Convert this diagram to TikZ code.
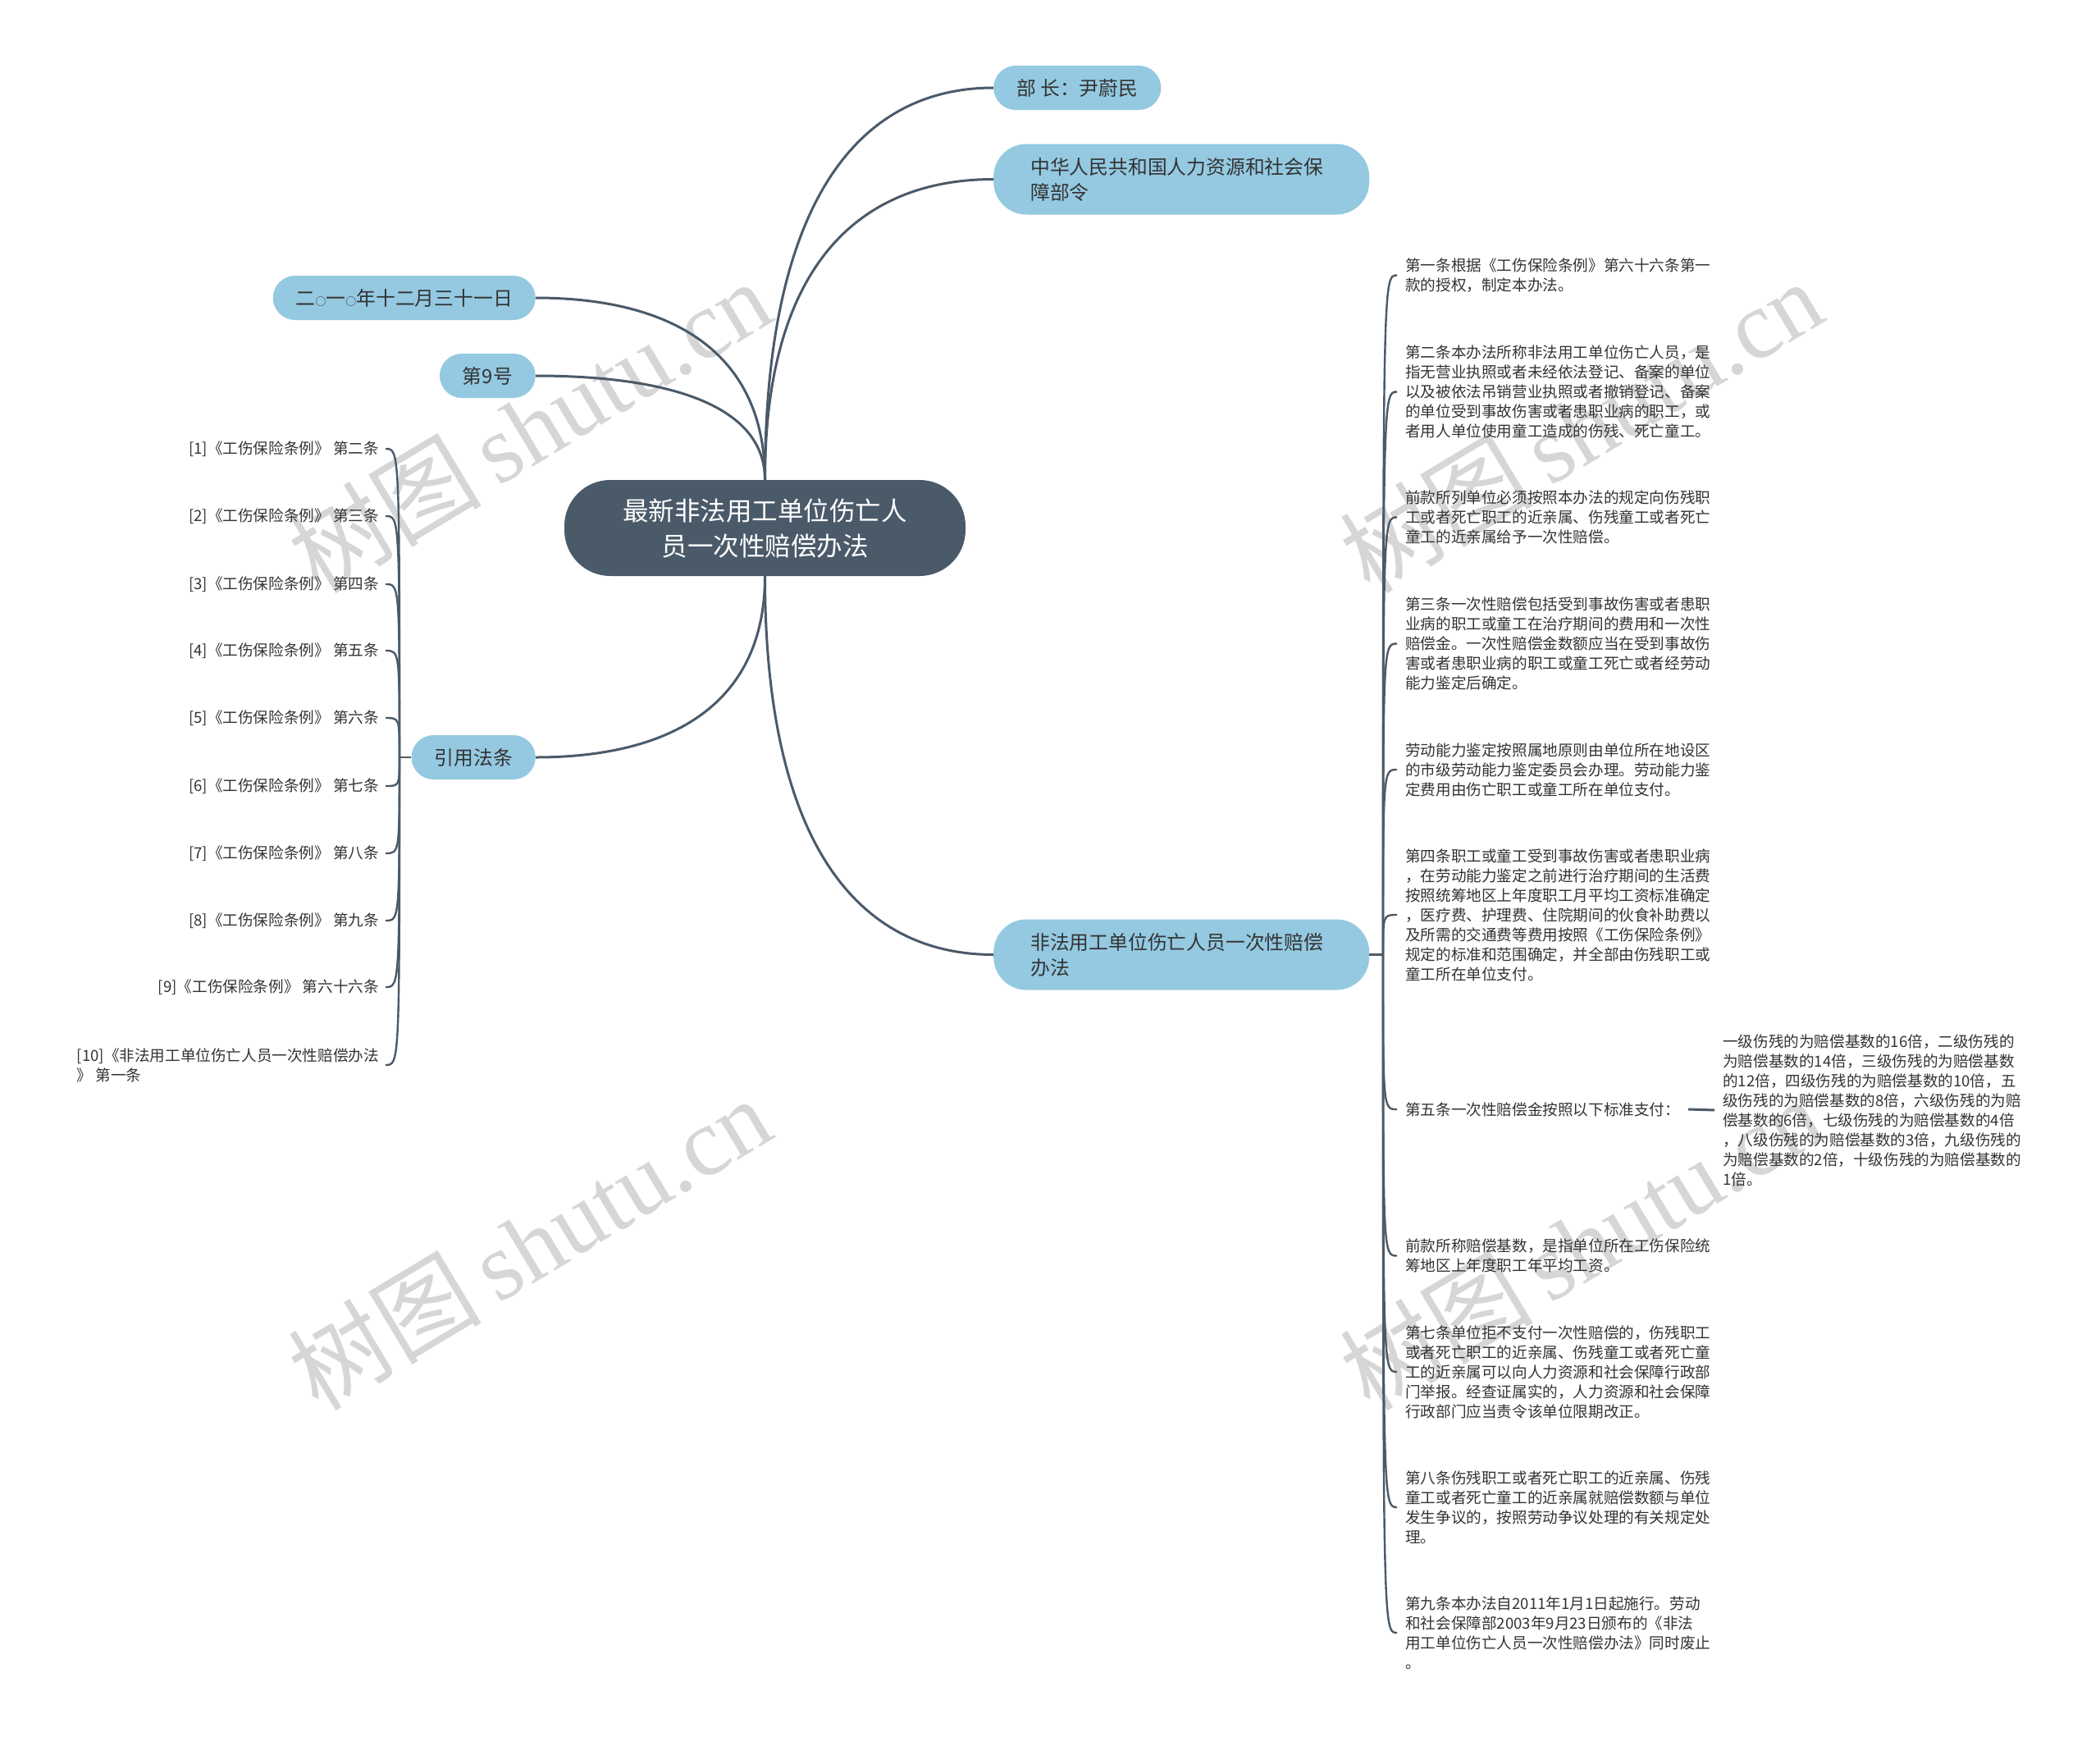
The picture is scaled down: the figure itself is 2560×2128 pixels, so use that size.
\documentclass[tikz,border=0pt]{standalone}
\usepackage{fontspec}
\setmainfont{Noto Sans CJK SC}
\newfontfamily\wmserif{Liberation Serif}
\definecolor{dark}{RGB}{74,90,105}
\definecolor{lblue}{RGB}{148,201,225}
\definecolor{txt}{RGB}{51,51,51}
\definecolor{wm}{RGB}{214,214,214}
\newcommand\smcirc{{\fontsize{13pt}{13pt}\selectfont ○}}
\tikzset{
  bluebox/.style={fill=lblue, text=txt, rounded corners=27pt, minimum height=54pt,
    inner xsep=28pt, inner ysep=0pt, font=\fontsize{23.8pt}{31pt}\selectfont},
  bluebox2/.style={bluebox, rounded corners=40pt, minimum height=86pt, inner xsep=45pt,
    text width=368pt, align=left},
  rootbox/.style={fill=dark, text=white, rounded corners=56pt, minimum width=489pt,
    minimum height=117pt, align=center, inner sep=0pt, font=\fontsize{31.5pt}{43pt}\selectfont},
  leaftext/.style={text=txt, font=\fontsize{18.6pt}{24pt}\selectfont, inner ysep=0pt, align=left},
  lleaf/.style={leaftext, inner xsep=8pt, anchor=east},
  rleaf/.style={leaftext, inner xsep=10pt, anchor=west},
  mainconn/.style={draw=dark, line width=3pt},
  subconn/.style={draw=dark, line width=2.4pt},
  wmark/.style={text=wm, rotate=31, inner sep=0pt}
}
\begin{document}
\begin{tikzpicture}[x=1pt,y=-1pt]
\fill[white] (0,0) rectangle (2560,2128);
\useasboundingbox (0,0) rectangle (2560,2128);

% watermarks
\foreach \wx/\wy [count=\i] in {645/519, 1927/519, 645/1515, 1927/1515}{
  \node[wmark] (wm\i) at (\wx,\wy) {\fontsize{118pt}{118pt}\selectfont 树图\,{\wmserif shutu.cn}};
}

% root
\node[rootbox] (root) at (932.5,643.5) {最新非法用工单位伤亡人\\员一次性赔偿办法};

% first-level nodes
\node[bluebox, anchor=west] (bz) at (1211,107) {部 长：尹蔚民};
\node[bluebox2, anchor=west] (zh) at (1211,218.5) {中华人民共和国人力资源和社会保\\障部令};
\node[bluebox, anchor=east] (rq) at (653,363) {二\smcirc 一\smcirc 年十二月三十一日};
\node[bluebox, anchor=east] (d9) at (653,458) {第9号};
\node[bluebox, anchor=east] (yy) at (653,923) {引用法条};
\node[bluebox2, anchor=west] (fz) at (1211,1163.5) {非法用工单位伤亡人员一次性赔偿\\办法};

\draw[mainconn] (root.north) .. controls +(0,-335) and +(-167,0) .. (bz.west);
\draw[mainconn] (root.north) .. controls +(0,-257) and +(-167,0) .. (zh.west);
\draw[mainconn] (root.north) .. controls +(0,-155) and +(167,0) .. (rq.east);
\draw[mainconn] (root.north) .. controls +(0,-89) and +(167,0) .. (d9.east);
\draw[mainconn] (root.south) .. controls +(0,155) and +(167,0) .. (yy.east);
\draw[mainconn] (root.south) .. controls +(0,323) and +(-167,0) .. (fz.west);

% left leaves
\node[lleaf] (l1) at (470,547) {[1]《工伤保险条例》 第二条};
\node[lleaf] (l2) at (470,629) {[2]《工伤保险条例》 第三条};
\node[lleaf] (l3) at (470,712) {[3]《工伤保险条例》 第四条};
\node[lleaf] (l4) at (470,793) {[4]《工伤保险条例》 第五条};
\node[lleaf] (l5) at (470,875) {[5]《工伤保险条例》 第六条};
\node[lleaf] (l6) at (470,958) {[6]《工伤保险条例》 第七条};
\node[lleaf] (l7) at (470,1040) {[7]《工伤保险条例》 第八条};
\node[lleaf] (l8) at (470,1122) {[8]《工伤保险条例》 第九条};
\node[lleaf] (l9) at (470,1203) {[9]《工伤保险条例》 第六十六条};
\node[lleaf] (l10) at (470,1298) {[10]《非法用工单位伤亡人员一次性赔偿办法\\》 第一条};

\coordinate (JL) at (487,923);
\draw[subconn] (yy.west) -- (JL);
\foreach \k in {1,...,10}{
  \draw[subconn] (JL) .. controls (JL |- l\k.east) and (JL |- l\k.east) .. (l\k.east);
}

% right leaves
\node[rleaf] (r1) at (1703,335.5) {第一条根据《工伤保险条例》第六十六条第一\\款的授权，制定本办法。};
\node[rleaf] (r2) at (1703,477.5) {第二条本办法所称非法用工单位伤亡人员，是\\指无营业执照或者未经依法登记、备案的单位\\以及被依法吊销营业执照或者撤销登记、备案\\的单位受到事故伤害或者患职业病的职工，或\\者用人单位使用童工造成的伤残、死亡童工。};
\node[rleaf] (r3) at (1703,630.5) {前款所列单位必须按照本办法的规定向伤残职\\工或者死亡职工的近亲属、伤残童工或者死亡\\童工的近亲属给予一次性赔偿。};
\node[rleaf] (r4) at (1703,784.5) {第三条一次性赔偿包括受到事故伤害或者患职\\业病的职工或童工在治疗期间的费用和一次性\\赔偿金。一次性赔偿金数额应当在受到事故伤\\害或者患职业病的职工或童工死亡或者经劳动\\能力鉴定后确定。};
\node[rleaf] (r5) at (1703,938) {劳动能力鉴定按照属地原则由单位所在地设区\\的市级劳动能力鉴定委员会办理。劳动能力鉴\\定费用由伤亡职工或童工所在单位支付。};
\node[rleaf] (r6) at (1703,1115) {第四条职工或童工受到事故伤害或者患职业病\\，在劳动能力鉴定之前进行治疗期间的生活费\\按照统筹地区上年度职工月平均工资标准确定\\，医疗费、护理费、住院期间的伙食补助费以\\及所需的交通费等费用按照《工伤保险条例》\\规定的标准和范围确定，并全部由伤残职工或\\童工所在单位支付。};
\node[rleaf] (r7) at (1703,1352) {第五条一次性赔偿金按照以下标准支付：};
\node[rleaf] (r7c) at (2090,1353) {一级伤残的为赔偿基数的16倍，二级伤残的\\为赔偿基数的14倍，三级伤残的为赔偿基数\\的12倍，四级伤残的为赔偿基数的10倍，五\\级伤残的为赔偿基数的8倍，六级伤残的为赔\\偿基数的6倍，七级伤残的为赔偿基数的4倍\\，八级伤残的为赔偿基数的3倍，九级伤残的\\为赔偿基数的2倍，十级伤残的为赔偿基数的\\1倍。};
\node[rleaf] (r8) at (1703,1530.5) {前款所称赔偿基数，是指单位所在工伤保险统\\筹地区上年度职工年平均工资。};
\node[rleaf] (r9) at (1703,1672) {第七条单位拒不支付一次性赔偿的，伤残职工\\或者死亡职工的近亲属、伤残童工或者死亡童\\工的近亲属可以向人力资源和社会保障行政部\\门举报。经查证属实的，人力资源和社会保障\\行政部门应当责令该单位限期改正。};
\node[rleaf] (r10) at (1703,1837) {第八条伤残职工或者死亡职工的近亲属、伤残\\童工或者死亡童工的近亲属就赔偿数额与单位\\发生争议的，按照劳动争议处理的有关规定处\\理。};
\node[rleaf] (r11) at (1703,1990) {第九条本办法自2011年1月1日起施行。劳动\\和社会保障部2003年9月23日颁布的《非法\\用工单位伤亡人员一次性赔偿办法》同时废止\\。};

\coordinate (JR) at (1686,1163.5);
\draw[subconn] (fz.east) -- (JR);
\foreach \k in {1,...,11}{
  \draw[subconn] (JR) .. controls (JR |- r\k.west) and (JR |- r\k.west) .. (r\k.west);
}
\draw[mainconn] (r7.east) -- (r7c.west);
\end{tikzpicture}
\end{document}
